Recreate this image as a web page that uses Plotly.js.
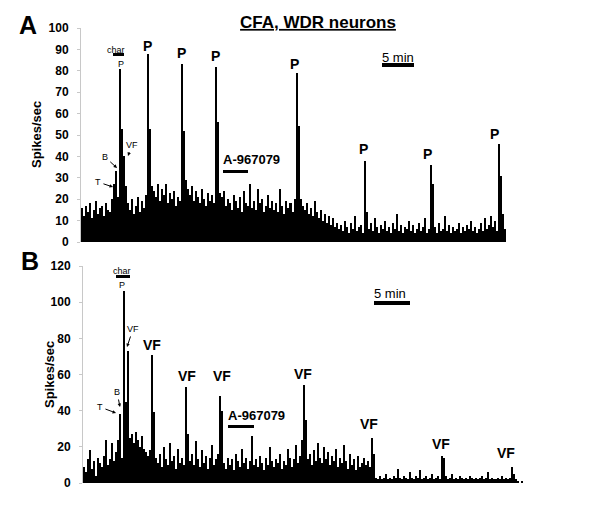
<!DOCTYPE html>
<html>
<head>
<meta charset="utf-8">
<script src="https://cdn.plot.ly/plotly-3.0.1.min.js"></script>
<style>
  body { margin: 0; background: #fff; }
  #plot { width: 600px; height: 509px; }
</style>
</head>
<body>
<div id="plot"></div>
<script>
// Panel A: spikes/sec per bin (CFA, WDR neuron, pinch trials)
const ratesA = [
  16, 12, 17, 14, 18, 11, 15, 19, 13, 16, 17, 12, 18, 15, 14, 20,
  27, 33, 21, 81, 53, 40, 26,
  18, 15, 20, 13, 17, 21, 14, 19, 16, 22,
  88, 53,
  26, 24, 21, 27, 19, 25, 22, 27, 18, 23, 20, 24, 17, 21, 19,
  83, 52,
  29, 25, 22, 26, 19, 24, 21, 18, 25, 20, 17, 23, 19, 22, 18,
  82, 56,
  23, 21, 24, 17, 20, 18, 15, 22, 19, 16, 21, 14, 24, 18, 17, 27, 16, 19, 15, 25,
  18, 20, 14, 17, 22, 16, 19, 15, 18, 14, 25, 17, 13, 19, 16, 18, 14, 20,
  79, 54,
  20, 17, 15, 18, 13, 16, 12, 19, 14, 11, 15, 10, 13, 9, 12, 8, 11, 7, 9,
  6, 8, 5, 10, 7, 4, 9, 6, 12, 5, 7, 8, 4,
  38, 14,
  6, 9, 5, 11, 7, 4, 8, 6, 10, 5, 7, 4, 9, 6, 13, 5, 8, 4, 7, 6,
  10, 5, 8, 4, 6, 9, 5, 7, 11, 4, 6,
  36, 27,
  7, 4, 9, 5, 6, 12, 5, 8, 4, 7, 5, 6, 9, 4, 7, 5, 8, 6, 10, 5,
  7, 4, 6, 9, 5, 11, 6, 8, 12, 7, 10, 5,
  46, 31, 13, 6
];

// Panel B: spikes/sec per bin (von Frey trials)
const ratesB = [
  9, 6, 13, 18, 8, 12, 4, 14, 11, 9, 15, 24, 10, 13, 22, 12,
  17, 24,
  38, 14, 106, 45, 73,
  25, 27, 22, 28, 24, 20, 26, 19,
  17, 15, 18,
  71, 39,
  14, 11, 16, 9, 20, 13, 10, 22, 12, 15, 8, 19, 11, 14, 10,
  53, 27,
  12, 16, 10, 23, 13, 9, 18, 11, 15, 8, 14, 21, 10, 13, 16,
  48, 40,
  11, 8, 14, 10, 13, 7, 16, 12, 9, 19, 11, 14, 8, 12, 26, 10, 13, 9, 15, 11,
  7, 14, 10, 20, 12, 9, 13, 11, 16, 8, 12, 10, 19, 14, 9, 13, 21, 11, 15, 24,
  54, 35,
  13, 16, 10, 18, 12, 22, 14, 11, 20, 13, 17, 10, 15, 12, 19, 9, 14, 11, 21, 12,
  8, 16, 10, 13, 7, 15, 9, 11, 14, 10, 12, 9,
  25, 16,
  3, 2, 4, 2, 3, 5, 2, 3, 2, 4, 3, 8, 3, 2, 4, 3, 2, 6, 3, 2,
  4, 3, 7, 2, 3, 4, 2, 3, 5, 2, 3, 4, 2,
  15, 14,
  4, 2, 3, 5, 2, 3, 2, 4, 3, 2, 3, 2, 4, 3, 2, 3, 2, 3, 4, 2,
  3, 6, 2, 3, 2, 2, 3, 2, 4, 2, 3, 2, 3,
  9, 5, 2, 1, 0, 1
];

const ticksA = [0, 10, 20, 30, 40, 50, 60, 70, 80, 90, 100];
const ticksB = [0, 20, 40, 60, 80, 100, 120];

// page pixel -> paper coords (margins are zero)
const W = 600, H = 509;
const px = x => x / W;
const py = y => 1 - y / H;

const FONT = 'Arial, "Liberation Sans", sans-serif';

const binsA = ratesA.map((v, i) => i);
const binsB = ratesB.map((v, i) => i);

const traces = [
  { type: 'bar', x: binsA, y: ratesA, xaxis: 'x', yaxis: 'y',
    marker: { color: '#000', line: { width: 0 } }, hoverinfo: 'skip' },
  { type: 'bar', x: binsB, y: ratesB, xaxis: 'x2', yaxis: 'y2',
    marker: { color: '#000', line: { width: 0 } }, hoverinfo: 'skip' }
];

function yAxis(domain, ticks) {
  return {
    domain: domain, range: [0, ticks[ticks.length - 1]],
    tickvals: ticks, ticks: 'outside', ticklen: 3, tickcolor: '#c8c8c8',
    ticklabelstandoff: 6,
    showline: true, linecolor: '#c8c8c8', linewidth: 1,
    showgrid: false, zeroline: false, fixedrange: true,
    tickfont: { family: FONT, size: 12, color: '#000', weight: 700 }
  };
}

// text helpers
function label(text, x, y, size, bold) {
  return { xref: 'paper', yref: 'paper', x: px(x), y: py(y), text: text,
    showarrow: false, xanchor: 'center', yanchor: 'middle',
    font: { family: FONT, size: size, color: '#000', weight: bold ? 700 : 400 } };
}
function pointer(text, tx, ty, hx, hy) {
  return { xref: 'paper', yref: 'paper', x: px(hx), y: py(hy), text: text,
    axref: 'pixel', ayref: 'pixel', ax: tx - hx, ay: ty - hy,
    showarrow: true, arrowhead: 2, arrowsize: 0.7, arrowwidth: 1, arrowcolor: '#000',
    standoff: 0, startstandoff: 1,
    font: { family: FONT, size: 9, color: '#000' } };
}
function bar(x0, x1, y0, y1) {
  return { type: 'rect', xref: 'paper', yref: 'paper',
    x0: px(x0), x1: px(x1), y0: py(y1), y1: py(y0),
    fillcolor: '#000', line: { width: 0 } };
}

const annotations = [
  label('A', 28, 25, 25, true),
  label('B', 30, 261, 25, true),
  Object.assign(label('Spikes/sec', 36, 135, 13, true), { textangle: -90 }),
  Object.assign(label('Spikes/sec', 49, 375, 13, true), { textangle: -90 }),

  // panel A
  label('char', 116, 50, 9, false),
  label('P', 121, 64, 9, false),
  pointer('B', 105, 157, 117, 168),
  pointer('T', 98, 182, 113, 187),
  pointer('VF', 132, 145, 128, 156),
  label('P', 147, 46, 14, true),
  label('P', 181, 53, 14, true),
  label('P', 215, 56, 14, true),
  label('P', 294, 64, 14, true),
  label('P', 363, 149, 14, true),
  label('P', 427, 154, 14, true),
  label('P', 494, 134, 14, true),
  label('A-967079', 251, 160, 13, true),
  label('5 min', 398, 58, 13, false),

  // panel B
  label('char', 122, 271, 9, false),
  label('P', 122, 285, 9, false),
  pointer('VF', 133, 329, 127, 347),
  pointer('B', 117, 392, 120, 407),
  pointer('T', 100, 407, 116, 413),
  label('VF', 152, 345, 14, true),
  label('VF', 187, 376, 14, true),
  label('VF', 222, 376, 14, true),
  label('VF', 303, 374, 14, true),
  label('VF', 369, 424, 14, true),
  label('VF', 441, 444, 14, true),
  label('VF', 506, 453, 14, true),
  label('A-967079', 256, 415, 13, true),
  label('5 min', 390, 293, 13, false)
];

const shapes = [
  bar(113, 124, 53, 56),
  bar(223, 248, 170, 173),
  bar(382, 414, 63, 67),
  bar(116, 130, 275, 278),
  bar(228, 254, 425, 428),
  bar(374, 410, 301, 305)
];

const layout = {
  width: W, height: H,
  margin: { l: 0, r: 0, t: 0, b: 0 },
  paper_bgcolor: '#fff', plot_bgcolor: '#fff',
  showlegend: false, bargap: 0,
  title: {
    text: '<b><u>CFA, WDR neurons</u></b>',
    x: px(318), xanchor: 'center', y: py(22), yanchor: 'middle',
    font: { family: FONT, size: 17, color: '#000' }
  },
  xaxis: { domain: [px(81), px(506)], range: [-0.5, ratesA.length - 0.5],
    visible: false, fixedrange: true },
  yaxis: yAxis([py(242), py(28)], ticksA),
  xaxis2: { domain: [px(83), px(523)], range: [-0.5, ratesB.length - 0.5],
    visible: false, fixedrange: true, anchor: 'y2' },
  yaxis2: Object.assign(yAxis([py(483), py(266)], ticksB), { anchor: 'x2' }),
  annotations: annotations,
  shapes: shapes
};

Plotly.newPlot('plot', traces, layout, { displayModeBar: false, staticPlot: true });
</script>
</body>
</html>
